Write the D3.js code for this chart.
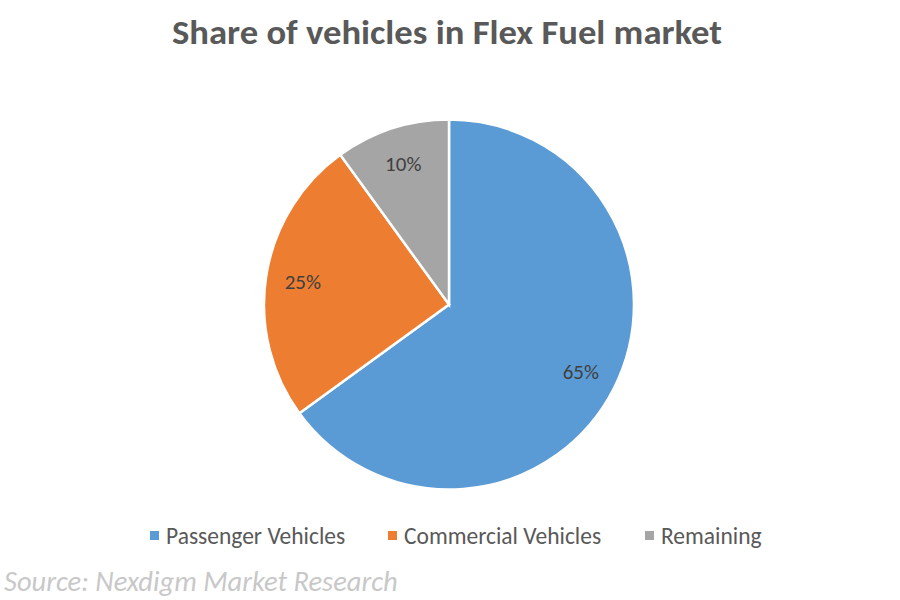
<!DOCTYPE html>
<html><head><meta charset="utf-8">
<script src="https://cdn.jsdelivr.net/npm/d3@7"></script>
<style>body{margin:0;background:#fff}</style></head>
<body><svg id="c" width="900" height="600"></svg>
<script>
const categories=["Passenger Vehicles","Commercial Vehicles","Remaining"];
const values=[65,25,10];
const labels=["65%","25%","10%"];
const colors=["#5B9BD5","#ED7D31","#A5A5A5"];
const svg=d3.select("#c");
const font="Calibri, Carlito, Lato, sans-serif";
svg.append("text").attr("x",447).attr("y",44).attr("text-anchor","middle")
 .attr("font-family",font).attr("font-weight","bold").attr("font-size",34).attr("fill","#595959")
 .attr("textLength",550).attr("lengthAdjust","spacingAndGlyphs")
 .text("Share of vehicles in Flex Fuel market");
const cx=449,cy=304.5,r=185;
const pie=d3.pie().sort(null)(values);
const arc=d3.arc().innerRadius(0).outerRadius(r);
const la=d3.arc().innerRadius(r*0.8).outerRadius(r*0.8);
const g=svg.append("g").attr("transform",`translate(${cx},${cy})`);
g.selectAll("path").data(pie).join("path").attr("d",arc).attr("fill",(d,i)=>colors[i])
 .attr("stroke","#fff").attr("stroke-width",2.5);
g.selectAll("text").data(pie).join("text").attr("transform",d=>`translate(${la.centroid(d)})`)
 .attr("text-anchor","middle").attr("dy","0.35em").attr("font-family",font).attr("font-size",21).attr("fill","#404040")
 .text((d,i)=>labels[i]);
const lx=[150,388,645];
const lg=svg.append("g");
categories.forEach((c,i)=>{
 lg.append("rect").attr("x",lx[i]).attr("y",531).attr("width",9).attr("height",9).attr("fill",colors[i]);
 lg.append("text").attr("x",lx[i]+16).attr("y",536).attr("dy","0.35em").attr("font-family",font).attr("font-size",23.5).attr("fill","#595959").text(c);
});
svg.append("text").attr("x",4).attr("y",591).attr("font-family",font).attr("font-style","italic").attr("font-size",28.5).attr("fill","#C8C8C8")
 .text("Source: Nexdigm Market Research");
</script></body></html>
